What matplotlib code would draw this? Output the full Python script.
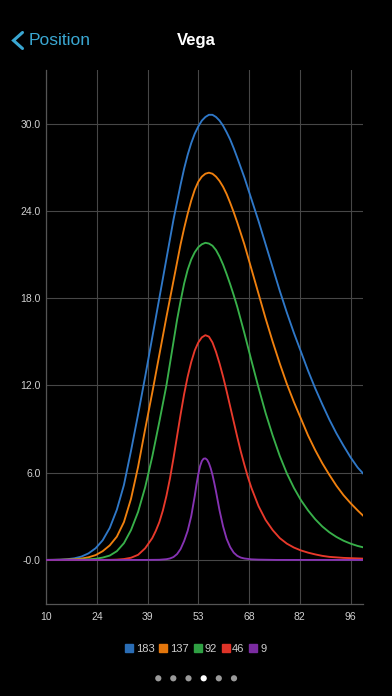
import numpy as np
import matplotlib
matplotlib.use("Agg")
import matplotlib.pyplot as plt
from matplotlib.lines import Line2D
from matplotlib.patches import Circle

plt.rcParams['font.family'] = ['Liberation Sans', 'DejaVu Sans']

# ---------------- data ----------------
title = "Vega"
back_label = "Position"
series_names = ["183", "137", "92", "46", "9"]
series_colors = ["#2f78c8", "#f0800e", "#38b04a", "#e8392b", "#8633b3"]
legend_colors = ["#2a6db5", "#e3760c", "#2fa043", "#de3328", "#7a2ba0"]

x_183 = [10, 12, 14, 16, 18, 20, 22, 24, 26, 28, 30, 32, 34, 36, 38, 40, 42, 44, 46, 48, 49, 50, 51,
         52, 53, 54, 55, 56, 57, 58, 59, 60, 61, 62, 63, 64, 66, 68, 70, 72, 74, 76, 78, 80, 82, 84,
         86, 88, 90, 92, 94, 96, 98, 99.5]
y_183 = [0.0, 0.005, 0.02, 0.05, 0.11, 0.23, 0.45, 0.8, 1.35, 2.2, 3.45, 5.15, 7.5, 10.0, 12.6, 15.3,
         18.0, 20.7, 23.4, 25.8, 26.9, 27.85, 28.65, 29.3, 29.8, 30.2, 30.45, 30.6, 30.6, 30.45, 30.2,
         29.85, 29.4, 28.9, 28.3, 27.65, 26.3, 24.8, 23.3, 21.7, 20.1, 18.5, 17.0, 15.6, 14.3, 13.0,
         11.8, 10.7, 9.65, 8.7, 7.85, 7.05, 6.35, 5.95]

x_137 = [10, 14, 18, 20, 22, 24, 26, 28, 30, 32, 34, 36, 38, 40, 42, 44, 46, 48, 49, 50, 51, 52, 53,
         54, 55, 56, 57, 58, 59, 60, 61, 62, 63, 64, 66, 68, 70, 72, 74, 76, 78, 80, 82, 84, 86, 88,
         90, 92, 94, 96, 98, 99.5]
y_137 = [0.0, 0.01, 0.04, 0.09, 0.18, 0.33, 0.6, 1.0, 1.6, 2.6, 4.2, 6.4, 9.0, 11.5, 14.1, 16.7,
         19.2, 21.7, 22.8, 23.8, 24.7, 25.45, 26.0, 26.35, 26.55, 26.62, 26.55, 26.35, 26.05, 25.65,
         25.15, 24.55, 23.9, 23.2, 21.7, 20.0, 18.3, 16.6, 15.0, 13.5, 12.1, 10.85, 9.7, 8.55, 7.55,
         6.65, 5.85, 5.1, 4.45, 3.9, 3.4, 3.05]

x_92 = [10, 14, 18, 22, 24, 26, 28, 30, 32, 34, 36, 38, 40, 42, 44, 45, 46, 47, 48, 49, 50, 51, 52,
        53, 54, 55, 56, 57, 58, 59, 60, 61, 62, 63, 64, 66, 68, 70, 72, 74, 76, 78, 80, 82, 84, 86,
        88, 90, 92, 94, 96, 98, 99.5]
y_92 = [0.0, 0.0, 0.01, 0.04, 0.08, 0.16, 0.3, 0.6, 1.15, 2.05, 3.3, 5.0, 7.1, 9.5, 12.0, 13.5,
        15.0, 16.5, 17.8, 19.0, 19.95, 20.65, 21.15, 21.5, 21.7, 21.8, 21.75, 21.6, 21.3, 20.85,
        20.3, 19.65, 18.95, 18.2, 17.4, 15.6, 13.7, 11.85, 10.1, 8.55, 7.15, 5.95, 4.95, 4.1, 3.4,
        2.8, 2.3, 1.9, 1.58, 1.32, 1.12, 0.96, 0.87]

x_46 = [10, 20, 28, 30, 32, 34, 36, 38, 40, 41, 42, 43, 44, 45, 46, 47, 48, 49, 50, 51, 52, 53, 54,
        55, 56, 57, 58, 59, 60, 61, 62, 63, 64, 65, 66, 67, 68, 70, 72, 74, 76, 78, 80, 82, 84, 86,
        88, 90, 94, 99.5]
y_46 = [0.0, 0.0, 0.005, 0.02, 0.06, 0.15, 0.35, 0.8, 1.5, 2.0, 2.6, 3.4, 4.4, 5.6, 7.0, 8.5, 10.0,
        11.4, 12.6, 13.6, 14.4, 14.95, 15.3, 15.45, 15.35, 14.95, 14.3, 13.5, 12.6, 11.6, 10.55,
        9.5, 8.45, 7.45, 6.55, 5.7, 4.95, 3.7, 2.75, 2.05, 1.5, 1.12, 0.85, 0.65, 0.5, 0.38, 0.28,
        0.21, 0.14, 0.09]

x_9 = [10, 38, 42, 44, 45, 46, 47, 48, 49, 50, 51, 52, 52.5, 53, 53.5, 54, 54.5, 55, 55.5, 56, 56.5,
       57, 57.5, 58, 59, 60, 61, 62, 63, 64, 65, 66, 68, 70, 75, 99.5]
y_9 = [0.0, 0.0, 0.01, 0.05, 0.1, 0.2, 0.4, 0.75, 1.3, 2.0, 3.0, 4.4, 5.2, 5.9, 6.45, 6.8, 6.96,
       6.98, 6.88, 6.65, 6.3, 5.85, 5.3, 4.7, 3.4, 2.3, 1.45, 0.88, 0.5, 0.28, 0.16, 0.1, 0.04,
       0.02, 0.0, 0.0]

x_tick_labels = ["10", "24", "39", "53", "68", "82", "96"]
y_tick_values = [0, 6, 12, 18, 24, 30]
y_tick_labels = ["-0.0", "6.0", "12.0", "18.0", "24.0", "30.0"]

series_x = [x_183, x_137, x_92, x_46, x_9]
series_y = [y_183, y_137, y_92, y_46, y_9]

# ---------------- figure ----------------
W, H = 392, 696
fig = plt.figure(figsize=(W / 100, H / 100), dpi=100, facecolor="black")

ax = fig.add_axes([46 / W, 1 - 604 / H, 317 / W, 534 / H])
ax.set_facecolor("black")
for xs, ys, c in zip(series_x, series_y, series_colors):
    ax.plot(xs, ys, color=c, lw=1.35, solid_joinstyle="round", zorder=3)

ax.set_xlim(10, 99.5)
ax.set_ylim(-3.03, 33.68)
ax.set_xticks(np.linspace(10, 96, len(x_tick_labels)))
ax.set_xticklabels(x_tick_labels)
ax.set_yticks(y_tick_values)
ax.set_yticklabels(y_tick_labels)
ax.tick_params(axis="both", length=0, colors="#d0d0d0", labelsize=7.5)
ax.tick_params(axis="x", pad=6)
ax.tick_params(axis="y", pad=4)
ax.grid(True, color="#474747", lw=0.8, zorder=0)
for s in ["top", "right"]:
    ax.spines[s].set_visible(False)
for s in ["left", "bottom"]:
    ax.spines[s].set_color("#555555")
    ax.spines[s].set_linewidth(0.9)

# legend
handles = [Line2D([], [], marker="s", linestyle="none", markersize=5.3,
                  markerfacecolor=c, markeredgecolor=c) for c in legend_colors]
leg = fig.legend(handles, series_names, loc="center", bbox_to_anchor=(196 / W, 1 - 649 / H),
                 ncol=5, frameon=False, fontsize=8, handlelength=0.6, handletextpad=0.3,
                 columnspacing=0.5, labelcolor="#cfcfcf", borderaxespad=0, borderpad=0)

# header & decorations in pixel overlay
ov = fig.add_axes([0, 0, 1, 1], facecolor="none")
ov.set_xlim(0, W)
ov.set_ylim(H, 0)
ov.axis("off")
ov.plot([22.5, 13.5, 22.5], [32.5, 40.5, 48.5], color="#3aa7d2", lw=2.2,
        solid_capstyle="round", solid_joinstyle="miter")
ov.text(29, 40.5, back_label, color="#3aa7d2", fontsize=12.5, ha="left", va="center")
ov.text(196, 40.5, title, color="white", fontsize=12, fontweight="bold", ha="center", va="center")

dot_x = [158.3, 173.3, 188.5, 203.7, 218.8, 234.0]
for i, dx in enumerate(dot_x):
    ov.add_patch(Circle((dx, 678.3), 3.1, color="white" if i == 3 else "#9a9a9a", lw=0))

fig.savefig("out.png", dpi=100, facecolor="black")
